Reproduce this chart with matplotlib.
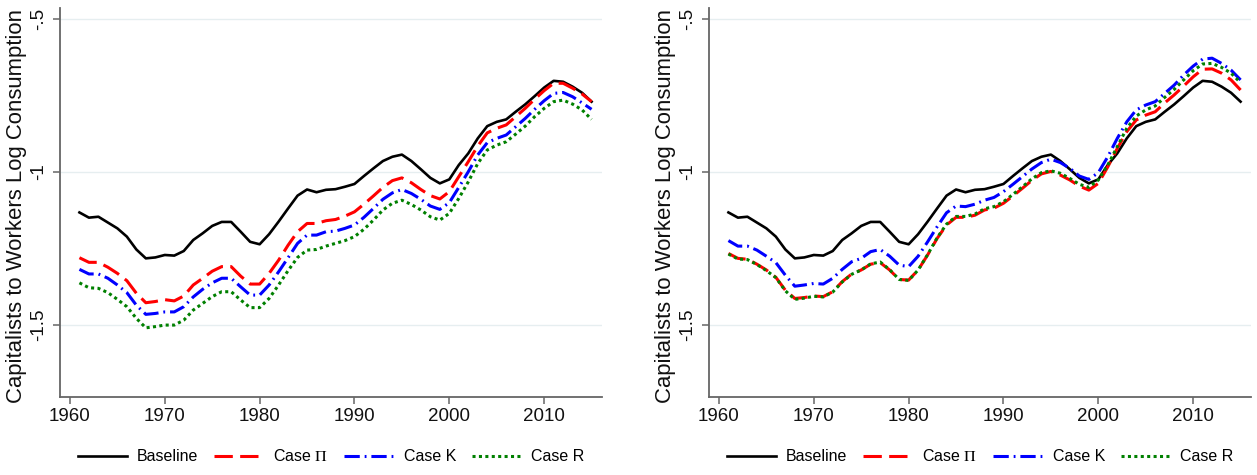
import numpy as np
import matplotlib
matplotlib.use('Agg')
import matplotlib.pyplot as plt

plt.rcParams['font.family'] = ['Liberation Sans', 'DejaVu Sans']
plt.rcParams['mathtext.fontset'] = 'stix'

years = list(range(1961, 2016))

baseline = [
    -1.132, -1.149, -1.146, -1.165, -1.184, -1.211, -1.253, -1.282, -1.279, -1.271,
    -1.273, -1.258, -1.222, -1.200, -1.176, -1.163, -1.163, -1.195, -1.228, -1.236,
    -1.203, -1.162, -1.119, -1.077, -1.057, -1.066, -1.058, -1.056, -1.048, -1.039,
    -1.013, -0.988, -0.964, -0.950, -0.943, -0.964, -0.991, -1.019, -1.037, -1.024,
    -0.977, -0.939, -0.890, -0.850, -0.836, -0.828, -0.803, -0.779, -0.752, -0.724,
    -0.702, -0.705, -0.721, -0.741, -0.770]

# left panel
left_pi = [
    -1.280, -1.295, -1.295, -1.311, -1.331, -1.355, -1.396, -1.427, -1.423, -1.417,
    -1.421, -1.405, -1.369, -1.347, -1.324, -1.309, -1.309, -1.340, -1.366, -1.366,
    -1.331, -1.288, -1.239, -1.195, -1.168, -1.168, -1.159, -1.155, -1.144, -1.130,
    -1.105, -1.078, -1.050, -1.028, -1.019, -1.035, -1.057, -1.077, -1.088, -1.064,
    -1.015, -0.966, -0.915, -0.872, -0.857, -0.846, -0.819, -0.792, -0.762, -0.734,
    -0.710, -0.710, -0.726, -0.745, -0.770]
left_k = [
    -1.318, -1.333, -1.333, -1.347, -1.369, -1.394, -1.435, -1.465, -1.462, -1.457,
    -1.457, -1.440, -1.408, -1.383, -1.362, -1.347, -1.347, -1.375, -1.402, -1.402,
    -1.369, -1.326, -1.280, -1.233, -1.206, -1.206, -1.195, -1.193, -1.184, -1.173,
    -1.148, -1.119, -1.089, -1.068, -1.057, -1.070, -1.089, -1.111, -1.122, -1.100,
    -1.050, -0.999, -0.944, -0.904, -0.890, -0.879, -0.852, -0.825, -0.795, -0.767,
    -0.743, -0.740, -0.754, -0.774, -0.795]
left_r = [
    -1.362, -1.378, -1.380, -1.394, -1.416, -1.440, -1.478, -1.509, -1.505, -1.500,
    -1.500, -1.484, -1.451, -1.429, -1.407, -1.391, -1.391, -1.418, -1.443, -1.443,
    -1.413, -1.369, -1.322, -1.279, -1.255, -1.253, -1.242, -1.233, -1.224, -1.211,
    -1.187, -1.157, -1.124, -1.102, -1.092, -1.106, -1.124, -1.146, -1.157, -1.135,
    -1.086, -1.032, -0.972, -0.928, -0.912, -0.901, -0.876, -0.850, -0.819, -0.792,
    -0.770, -0.765, -0.778, -0.797, -0.828]

# right panel
right_pi = [
    -1.266, -1.282, -1.285, -1.301, -1.320, -1.344, -1.386, -1.413, -1.410, -1.405,
    -1.407, -1.391, -1.358, -1.333, -1.320, -1.301, -1.296, -1.320, -1.351, -1.353,
    -1.320, -1.271, -1.217, -1.173, -1.148, -1.148, -1.141, -1.124, -1.118, -1.102,
    -1.078, -1.053, -1.027, -1.006, -0.998, -1.010, -1.026, -1.046, -1.059, -1.037,
    -0.983, -0.923, -0.868, -0.830, -0.814, -0.803, -0.774, -0.748, -0.719, -0.689,
    -0.664, -0.663, -0.677, -0.699, -0.732]
right_k = [
    -1.224, -1.242, -1.242, -1.255, -1.275, -1.296, -1.337, -1.373, -1.369, -1.364,
    -1.366, -1.347, -1.318, -1.293, -1.282, -1.260, -1.253, -1.275, -1.304, -1.309,
    -1.275, -1.228, -1.179, -1.133, -1.111, -1.113, -1.105, -1.092, -1.083, -1.064,
    -1.040, -1.015, -0.990, -0.969, -0.958, -0.969, -0.988, -1.013, -1.024, -1.002,
    -0.950, -0.890, -0.836, -0.797, -0.781, -0.770, -0.743, -0.716, -0.683, -0.654,
    -0.631, -0.628, -0.645, -0.667, -0.699]
right_r = [
    -1.268, -1.284, -1.286, -1.302, -1.322, -1.345, -1.388, -1.416, -1.412, -1.406,
    -1.408, -1.392, -1.359, -1.334, -1.320, -1.300, -1.294, -1.319, -1.351, -1.354,
    -1.320, -1.270, -1.215, -1.170, -1.145, -1.145, -1.137, -1.120, -1.113, -1.097,
    -1.073, -1.048, -1.022, -1.002, -0.996, -1.004, -1.021, -1.040, -1.050, -1.026,
    -0.977, -0.917, -0.857, -0.817, -0.797, -0.784, -0.756, -0.730, -0.699, -0.669,
    -0.647, -0.645, -0.658, -0.677, -0.708]

labels = ['Baseline', r'Case $\Pi$', 'Case K', 'Case R']
xticks = [1960, 1970, 1980, 1990, 2000, 2010]
yticks = [-1.5, -1.0, -0.5]
ytick_labels = ['-1.5', '-1', '-.5']
ylabel = 'Capitalists to Workers Log Consumption'

W, H = 1257, 475
fig = plt.figure(figsize=(W / 100, H / 100), dpi=100)


def draw_panel(x0, pi, k, r):
    ax = fig.add_axes([x0 / W, (H - 397) / H, 542 / W, 389 / H])
    for yv in yticks:
        ax.axhline(yv, color='#e6eef0', lw=1.0, zorder=0)
    ax.plot(years, baseline, color='black', lw=1.9, label=labels[0])
    ax.plot(years, pi, color='#ff0000', lw=2.2, linestyle=(0, (6, 2.4)), label=labels[1])
    ax.plot(years, k, color='#0000ff', lw=2.2, linestyle=(0, (5, 1.6, 0.6, 1.6)), label=labels[2])
    ax.plot(years, r, color='#008000', lw=2.2, linestyle=(0, (1, 1.1)), label=labels[3])
    ax.set_xlim(1958.95, 2016.1)
    ax.set_ylim(-1.735, -0.464)
    ax.set_xticks(xticks)
    ax.set_yticks(yticks)
    ax.set_yticklabels(ytick_labels, rotation=90, va='center')
    for s in ['top', 'right']:
        ax.spines[s].set_visible(False)
    for s in ['left', 'bottom']:
        ax.spines[s].set_color('#666666')
        ax.spines[s].set_linewidth(1.3)
    ax.tick_params(axis='both', colors='#666666', labelcolor='#111111',
                   labelsize=13.5, length=5, width=1.1, pad=3)
    ax.tick_params(axis='y', pad=4)
    ax.legend(loc='center', bbox_to_anchor=(0.5, -0.152), ncol=4, frameon=False,
              fontsize=11.5, handlelength=3.1, handletextpad=0.6, columnspacing=1.0)
    fig.text((x0 - 43) / W, (H - 403) / H, ylabel, rotation=90, ha='center', va='bottom',
             fontsize=15.9, color='#111111')
    return ax


draw_panel(60, left_pi, left_k, left_r)
draw_panel(709, right_pi, right_k, right_r)

fig.savefig('out.png', dpi=100)
